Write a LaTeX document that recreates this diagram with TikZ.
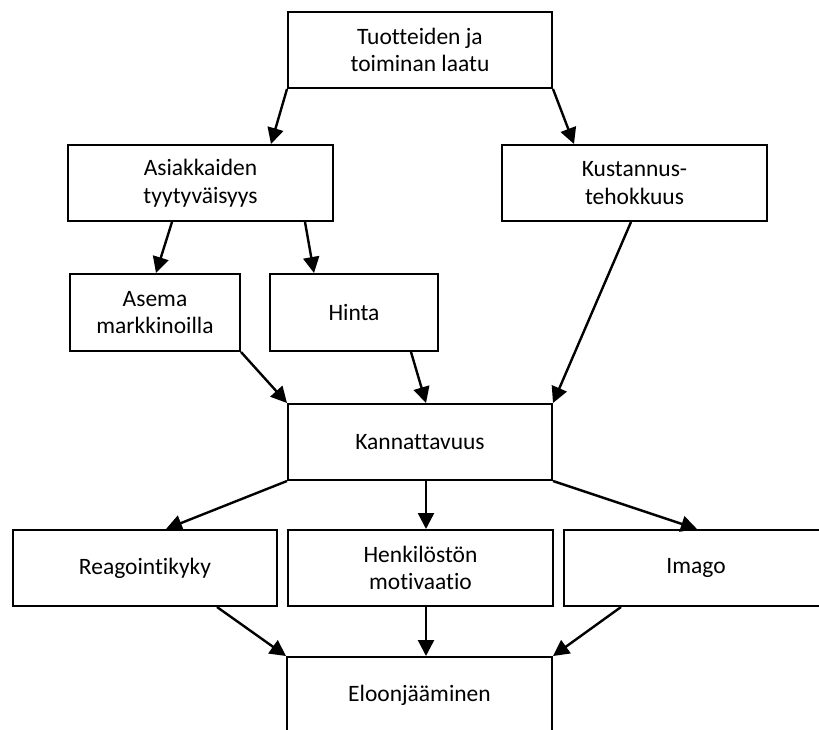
\documentclass[tikz,border=0pt]{standalone}
\usepackage{fontspec}
\setmainfont[Ligatures={NoCommon}]{Carlito}
\usetikzlibrary{arrows.meta,calc}
\begin{document}
\begin{tikzpicture}[x=1pt,y=-1pt,
  box/.style={draw=black,line width=2pt,rectangle,minimum width=264pt,minimum height=76pt,
    align=center,inner sep=0pt,font=\fontsize{23.5}{27.5}\selectfont},
  link/.style={line width=2.4pt,-{Triangle[length=16pt,width=16pt]}}]
\useasboundingbox (0,0) rectangle (819,729);
\clip (0,0) rectangle (819,729);
% boxes
\node[box] (top) at (420,50) {Tuotteiden ja\\toiminan laatu};
\node[box,minimum width=265pt] (asia) at (200.5,183) {Asiakkaiden\\tyytyväisyys};
\node[box,minimum width=265pt] (kust) at (634.5,183) {Kustannus-\\tehokkuus};
\node[box,minimum width=170pt,minimum height=77pt] (asema) at (155,312.5) {Asema\\markkinoilla};
\node[box,minimum width=168pt,minimum height=77pt] (hinta) at (354,312.5) {Hinta};
\node[box] (kann) at (420,442) {Kannattavuus};
\node[box] (reag) at (145,568) {Reagointikyky};
\node[box,minimum width=265pt] (henk) at (420.5,568) {Henkilöstön\\motivaatio};
\node[box] (imago) at (696,568) {Imago};
\node[box,minimum width=265pt] (eloon) at (419.5,695) {Eloonjääminen};
% connectors
\draw[link] (top.south west) -- ($(asia.north west)+(204,0)$);
\draw[link] (top.south east) -- ($(kust.north west)+(73,0)$);
\draw[link] ($(asia.south west)+(105,0)$) -- ($(asema.north west)+(87,0)$);
\draw[link] ($(asia.south west)+(238,0)$) -- ($(hinta.north west)+(45,0)$);
\draw[link] (asema.south east) -- (kann.north west);
\draw[link] ($(hinta.south west)+(142,0)$) -- ($(kann.north west)+(139,0)$);
\draw[link] ($(kust.south west)+(130,0)$) -- (kann.north east);
\draw[link] ($(kann.south west)+(139,0)$) -- ($(henk.north west)+(139,0)$);
\draw[link] (kann.south west) -- ($(reag.north west)+(154,0)$);
\draw[link] (kann.south east) -- ($(imago.north west)+(134,0)$);
\draw[link] ($(reag.south west)+(205,0)$) -- (eloon.north west);
\draw[link] ($(henk.south west)+(139,0)$) -- ($(eloon.north west)+(140,0)$);
\draw[link] ($(imago.south west)+(58,0)$) -- (eloon.north east);
\end{tikzpicture}
\end{document}
